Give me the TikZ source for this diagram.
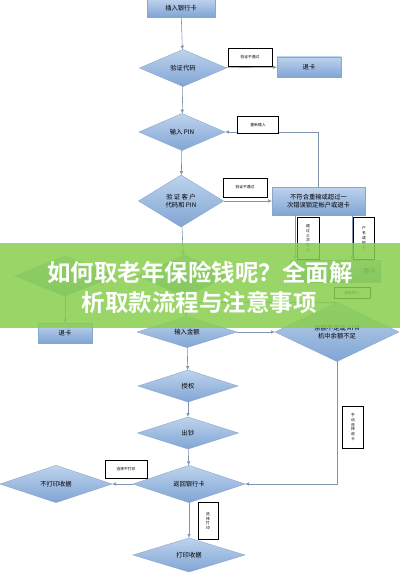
\documentclass[tikz,border=0pt]{standalone}
\usepackage{fontspec}
\newfontfamily\cjk{Noto Sans CJK SC}
\newfontfamily\cjkheavy{Noto Sans CJK SC Bold}
\usetikzlibrary{shapes.geometric, arrows.meta}

\definecolor{flowtop}{RGB}{190,211,237}
\definecolor{flowbot}{RGB}{128,165,212}
\definecolor{flowedge}{RGB}{140,166,202}
\definecolor{linkgray}{RGB}{128,148,176}
\definecolor{bannergreen}{RGB}{136,206,78}

\begin{document}
\begin{tikzpicture}[x=1pt, y=-1pt,
        font=\cjk\fontsize{6.3}{7.8}\selectfont,
        dia/.style={diamond, draw=flowedge, top color=flowtop, bottom color=flowbot, inner sep=0pt, outer sep=0pt, align=center},
        card/.style={rectangle, draw=flowedge, top color=flowtop, bottom color=flowbot, inner sep=0pt, outer sep=0pt, align=center},
        tag/.style={rectangle, draw=black, fill=white, inner sep=0pt, align=center, font=\cjk\fontsize{3.8}{4.8}\selectfont},
        link/.style={draw=linkgray, line width=0.6pt},
        go/.style={link, -{Latex[length=4pt,width=3.5pt]}},
        bannertext/.style={text=white, font=\cjkheavy\fontsize{23.5}{27}\selectfont, inner sep=0pt}]
    \useasboundingbox (0,0) rectangle (400,572);

    % main column
    \node[card, minimum width=68pt, minimum height=18pt] (card) at (181,8) {插入银行卡};
    \node[dia, minimum width=87pt, minimum height=37pt] (code) at (183,68) {验证代码};
    \node[dia, minimum width=86pt, minimum height=37pt] (pin) at (182,132) {输入 PIN};
    \node[dia, minimum width=85pt, minimum height=52pt] (chk) at (181,201) {验 证 客 户\\代码和 PIN};
    \node[dia, minimum width=90pt, minimum height=42pt] (mid) at (184,276) {};
    \node[dia, minimum width=100pt, minimum height=31pt] (amount) at (187,332) {输入金额};
    \node[dia, minimum width=100pt, minimum height=32pt] (grant) at (188,386) {授权};
    \node[dia, minimum width=101pt, minimum height=32pt] (cash) at (188,433) {出钞};
    \node[dia, minimum width=112pt, minimum height=34pt] (ret) at (189,484) {返回银行卡};
    \node[dia, minimum width=112pt, minimum height=34pt] (print) at (189,555) {打印收据};

    % side branches
    \node[card, minimum width=64pt, minimum height=20pt] (back1) at (309,67) {退卡};
    \node[card, minimum width=93pt, minimum height=28pt] (lock) at (318.5,201) {不符合重输或超过一\\次错误锁定帐户或退卡};
    \node[card, minimum width=90pt, minimum height=22pt, text width=82pt, align=right] (swallow) at (335,271) {吞卡};
    \node[dia, minimum width=100pt, minimum height=40pt] (quit) at (65,276) {};
    \node[card, minimum width=54pt, minimum height=20pt] (back2) at (65,333) {退卡};
    \node[dia, minimum width=124pt, minimum height=50pt] (short) at (337,332) {余额不足或 ATM\\机中余额不足};
    \node[dia, minimum width=112pt, minimum height=34pt] (noprint) at (56,484) {不打印收据};

    \coordinate (l1) at (295,230);
    \coordinate (l2) at (352,230);
    \coordinate (rejoin) at (184,302);

    \foreach \a/\b in {card/code, code/pin, pin/chk, chk/mid, mid/amount, amount/grant, grant/cash, cash/ret, ret/print}
        \draw[go] (\a) -- (\b);

    \draw[go] (code) -- (back1);
    \draw[go] (chk) -- (lock);
    \draw[go] (lock.north) |- (pin.east);
    \draw[go] (lock.south -| l1) -- (l1 |- swallow.north);
    \draw[go] (lock.south -| l2) -- (l2 |- swallow.north);
    \draw[go] (mid) -- (quit);
    \draw[go] (quit) -- (back2);
    \draw[go] (amount) -- (short);
    \draw[go] (short.north) |- (rejoin);
    \draw[go] (short.south) |- (ret.east);
    \draw[go] (ret) -- (noprint);

    % labels on connectors
    \node[tag, minimum width=44pt, minimum height=18pt] (t1) at (250,57) {验证不通过};
    \node[tag, minimum width=41pt, minimum height=17pt] (t2) at (258,125) {重新输入};
    \node[tag, minimum width=44pt, minimum height=19pt] (t3) at (245,187.5) {验证不通过};
    \node[tag, minimum width=22pt, minimum height=42pt] (t4) at (308,238) {超\\过\\三\\次\\验\\证};
    \node[tag, minimum width=21pt, minimum height=42pt] (t5) at (364,238) {户\\名\\或\\锁\\卡};
    \node[tag, minimum width=36pt, minimum height=11pt] (t6) at (352,293) {重新输入};
    \node[tag, minimum width=21pt, minimum height=42pt] (t7) at (353,427) {手\\动\\选\\择\\退\\卡};
    \node[tag, minimum width=42pt, minimum height=18pt] (t8) at (126,469) {选择不打印};
    \node[tag, minimum width=20pt, minimum height=37pt] (t9) at (208,521) {选\\择\\打\\印};

    % title band over the chart
    \fill[bannergreen, opacity=0.86] (0,243) rectangle (400,328);
    \node[bannertext] (title1) at (200,272) {如何取老年保险钱呢？全面解};
    \node[bannertext] (title2) at (199,302) {析取款流程与注意事项};
\end{tikzpicture}
\end{document}
